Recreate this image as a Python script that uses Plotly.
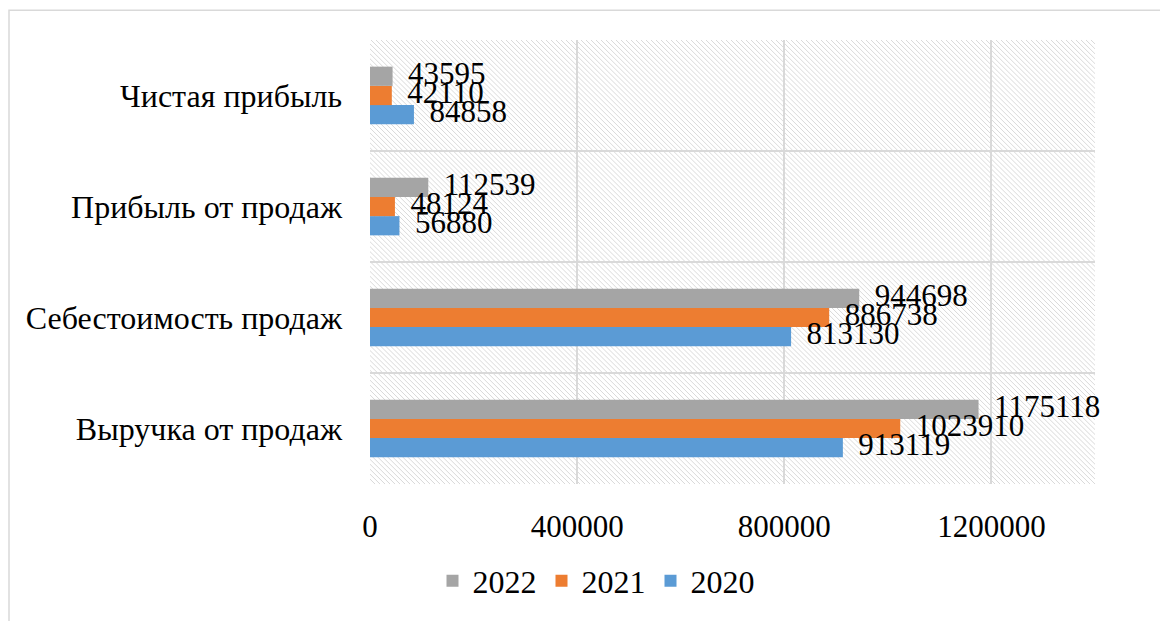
import plotly.graph_objects as go

categories = ["Выручка от продаж", "Себестоимость продаж", "Прибыль от продаж", "Чистая прибыль"]
years = ["2020", "2021", "2022"]
values_2020 = [913119, 813130, 56880, 84858]
values_2021 = [1023910, 886738, 48124, 42110]
values_2022 = [1175118, 944698, 112539, 43595]
series_values = [values_2020, values_2021, values_2022]
colors = ["#5B9BD5", "#ED7D31", "#A5A5A5"]
x_ticks = [0, 400000, 800000, 1200000]
x_max = 1400000

FONT = "Liberation Serif"
OFF = 8  # default page body margin
W, H = 1168 - OFF, 621 - OFF
PL, PR, PT, PB = 370, 1095, 40, 489  # plot area in page pixels
ML, MT = PL - OFF, PT - OFF
PW, PH = PR - PL, PB - PT
MR, MB = W - ML - PW, H - MT - PH

fig = go.Figure()
for name, vals, col in zip(years, series_values, colors):
    fig.add_trace(go.Bar(
        name=name, y=categories, x=vals, orientation="h",
        offsetgroup=name,
        marker=dict(color=col, line=dict(width=0)),
    ))
for name, vals in zip(years, series_values):
    fig.add_trace(go.Scatter(
        name=name, y=categories, x=vals, orientation="h", offsetgroup=name,
        mode="text", text=["\u00a0\u00a0" + str(v) for v in vals], textposition="middle right",
        textfont=dict(family=FONT, size=31, color="black"),
        showlegend=False, cliponaxis=False, hoverinfo="skip",
    ))

# hatch pattern for plot area background
s = 5
segs = []
c = -PH
while c <= PW:
    if c >= 0:
        x0, y0 = c, 0
    else:
        x0, y0 = 0, -c
    if c + PH <= PW:
        x1, y1 = c + PH, PH
    else:
        x1, y1 = PW, PW - c
    segs.append(f"M{x0/PW:.5f},{1-y0/PH:.5f}L{x1/PW:.5f},{1-y1/PH:.5f}")
    c += s
shapes = [dict(type="path", xref="paper", yref="paper", path="".join(segs),
               line=dict(color="#dadada", width=1), layer="below")]


def px2x(p):
    return (p - PL) / PW


def py2y(p):
    return (PB - p) / PH


# outer chart border
shapes.append(dict(type="rect", xref="paper", yref="paper",
                   x0=px2x(9), x1=px2x(1400), y0=py2y(10), y1=py2y(900),
                   line=dict(color="#d9d9d9", width=1.5), fillcolor="rgba(0,0,0,0)", layer="below"))

fig.update_layout(
    width=W, height=H,
    margin=dict(l=ML, r=MR, t=MT, b=MB, pad=0),
    paper_bgcolor="white", plot_bgcolor="rgba(0,0,0,0)",
    barmode="group", bargap=0.48, bargroupgap=0,
    scattermode="group", scattergap=0.48,
    font=dict(family=FONT, size=31, color="black"),
    shapes=shapes,
    showlegend=True,
    legend=dict(orientation="h", traceorder="reversed", x=px2x(596), xanchor="center",
                y=py2y(587), yanchor="middle", font=dict(family=FONT, size=32, color="black"),
                bgcolor="rgba(0,0,0,0)"),
    xaxis=dict(range=[0, x_max], tickvals=x_ticks, ticktext=[str(t) for t in x_ticks],
               showgrid=True, gridcolor="#d9d9d9", gridwidth=1.5, zeroline=False,
               showline=False, ticks="", ticklabelstandoff=21,
               tickfont=dict(family=FONT, size=31, color="black")),
    yaxis=dict(type="category", categoryorder="array", categoryarray=categories,
               range=[-0.5, 3.5], tickson="boundaries", showgrid=True, gridcolor="#d9d9d9",
               gridwidth=1.5, zeroline=False, showline=False, ticks="", ticklabelstandoff=27,
               tickfont=dict(family=FONT, size=32, color="black")),
)

fig.write_html("out.html")
